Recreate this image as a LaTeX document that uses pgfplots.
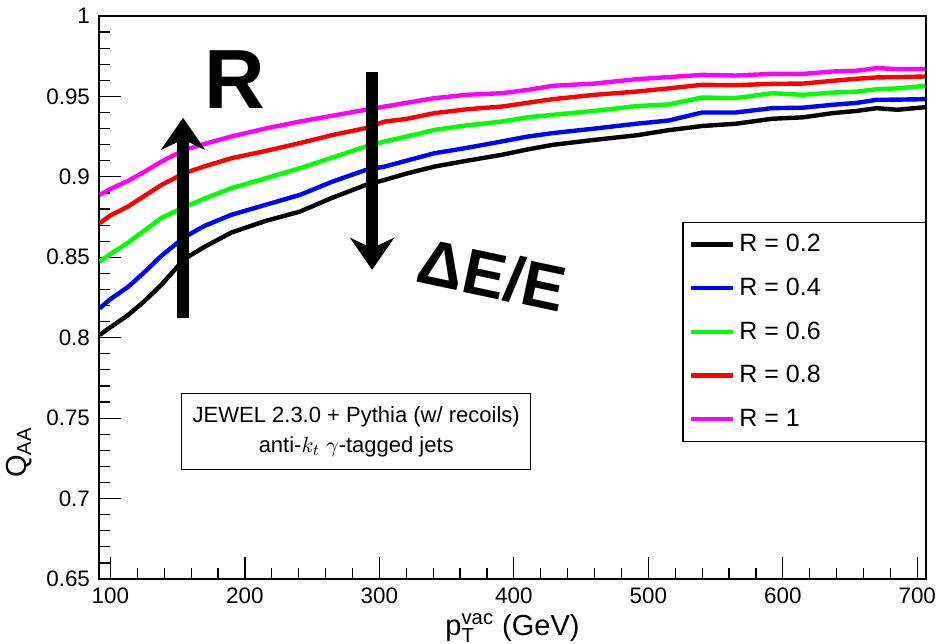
\documentclass[border=0pt]{standalone}
\usepackage{pgfplots}
\pgfplotsset{compat=1.18}
\usepackage{pgfplotstable}
\usepackage{fontspec}
\setmainfont{Liberation Sans}
\usetikzlibrary{arrows.meta}
\definecolor{rgreen}{RGB}{0,255,0}
\definecolor{rblue}{RGB}{0,0,255}
\definecolor{rred}{RGB}{255,0,0}
\definecolor{rmag}{RGB}{255,0,255}

\pgfplotstableread{
x     b0      b1      b2      b3      b4
92    0.8017  0.8183  0.8473  0.8712  0.8888
100   0.8065  0.8240  0.8520  0.8760  0.8925
113   0.8140  0.8315  0.8590  0.8815  0.8975
125   0.8225  0.8405  0.8665  0.8880  0.9030
138   0.8330  0.8510  0.8745  0.8950  0.9095
155   0.8490  0.8625  0.8812  0.9023  0.9168
170   0.8565  0.8695  0.8865  0.9065  0.9205
190   0.8654  0.8764  0.8930  0.9116  0.9251
215   0.8725  0.8825  0.8990  0.9160  0.9300
241   0.8784  0.8888  0.9054  0.9210  0.9344
265   0.8870  0.8970  0.9120  0.9260  0.9380
290   0.8950  0.9043  0.9189  0.9303  0.9417
304   0.8981  0.9064  0.9220  0.9344  0.9437
320   0.9020  0.9100  0.9250  0.9360  0.9460
341   0.9064  0.9147  0.9292  0.9396  0.9489
365   0.9100  0.9180  0.9320  0.9420  0.9510
391   0.9137  0.9220  0.9344  0.9437  0.9520
410   0.9170  0.9250  0.9370  0.9460  0.9540
429   0.9199  0.9272  0.9386  0.9483  0.9566
460   0.9230  0.9300  0.9410  0.9510  0.9580
491   0.9258  0.9330  0.9440  0.9530  0.9607
515   0.9290  0.9350  0.9450  0.9550  0.9620
540   0.9316  0.9400  0.9493  0.9572  0.9634
565   0.9330  0.9400  0.9490  0.9570  0.9630
592   0.9361  0.9427  0.9520  0.9578  0.9640
615   0.9370  0.9430  0.9510  0.9580  0.9640
637   0.9396  0.9448  0.9524  0.9597  0.9655
655   0.9410  0.9460  0.9530  0.9610  0.9660
670   0.9427  0.9479  0.9545  0.9618  0.9676
685   0.9417  0.9480  0.9550  0.9620  0.9670
706   0.9433  0.9483  0.9566  0.9624  0.9670
}\qaa

\begin{document}
\begin{tikzpicture}
\begin{axis}[
  scale only axis,
  width=413.5pt, height=281.5pt,
  xmin=91.5, xmax=706.5,
  ymin=0.65, ymax=1,
  xtick={100,200,...,700},
  ytick={0.65,0.7,0.75,0.8,0.85,0.9,0.95,1},
  yticklabels={0.65,0.7,0.75,0.8,0.85,0.9,0.95,1},
  minor x tick num=4,
  minor y tick num=4,
  tick align=inside,
  xtick pos=bottom, ytick pos=left,
  major tick length=11pt, minor tick length=5.5pt,
  axis line style={line width=0.7pt},
  every tick/.style={black, line width=0.6pt},
  /pgf/number format/assume math mode=true,
  ticklabel style={font=\fontsize{11.2}{13}\selectfont},
  xticklabel style={yshift=-1pt},
  yticklabel style={xshift=-1pt},
  xlabel={p$^{\mathrm{\fontsize{9}{9}\selectfont vac}}_{\mathrm{\fontsize{9}{9}\selectfont T}}$ (GeV)},
  xlabel style={font=\fontsize{14.5}{16}\selectfont, yshift=2pt},
  ylabel={Q$_{\mathrm{\fontsize{9}{9}\selectfont AA}}$},
  ylabel style={font=\fontsize{14.5}{16}\selectfont, at={(axis description cs:-0.072,0.225)}, anchor=south},
  legend style={at={(rel axis cs:1,0.6346)}, anchor=north east, draw=black, line width=0.6pt,
    font=\fontsize{12.5}{15}\selectfont, inner xsep=3pt, inner ysep=4pt, row sep=7.6pt},
  legend cell align=left,
  legend image code/.code={\draw[#1, line width=2.2pt] (0pt,0pt) -- (21pt,0pt);},
]
\addplot[black, line width=2.2pt] table[x=x, y=b0] {\qaa};
\addlegendentry{\makebox[88pt][l]{R = 0.2}}
\addplot[rblue, line width=2.2pt] table[x=x, y=b1] {\qaa};
\addlegendentry{\makebox[88pt][l]{R = 0.4}}
\addplot[rgreen, line width=2.2pt] table[x=x, y=b2] {\qaa};
\addlegendentry{\makebox[88pt][l]{R = 0.6}}
\addplot[rred, line width=2.2pt] table[x=x, y=b3] {\qaa};
\addlegendentry{\makebox[88pt][l]{R = 0.8}}
\addplot[rmag, line width=2.2pt] table[x=x, y=b4] {\qaa};
\addlegendentry{\makebox[88pt][l]{R = 1}}

\node[draw=black, line width=0.7pt, minimum width=174.5pt, minimum height=38pt, align=center,
  font=\fontsize{11}{15}\selectfont, inner sep=0pt] at (axis cs:282.8,0.7418)
  {JEWEL 2.3.0 + Pythia (w/ recoils)\\ anti-$k_t$ $\gamma$-tagged jets};

% hand-drawn annotations
\draw[black, line width=6pt, -{Stealth[length=16pt, width=22pt]}] (axis cs:154,0.8123) -- (axis cs:154,0.9367);
\draw[black, line width=6pt, -{Stealth[length=16pt, width=22pt]}] (axis cs:294.6,0.9653) -- (axis cs:294.6,0.8422);
\node[font=\fontsize{42}{42}\selectfont\bfseries] at (axis cs:192.6,0.9603) {R};
\node[font=\fontsize{32}{32}\selectfont\bfseries, rotate=-12] at (axis cs:384,0.839) {ΔE/E};

\coordinate (sw) at (rel axis cs:0,0);
\coordinate (ne) at (rel axis cs:1,1);
\end{axis}
\pgfresetboundingbox
\path[use as bounding box] ([xshift=-49.5pt,yshift=-32.5pt]sw) rectangle ([xshift=6pt,yshift=8pt]ne);
\end{tikzpicture}
\end{document}
